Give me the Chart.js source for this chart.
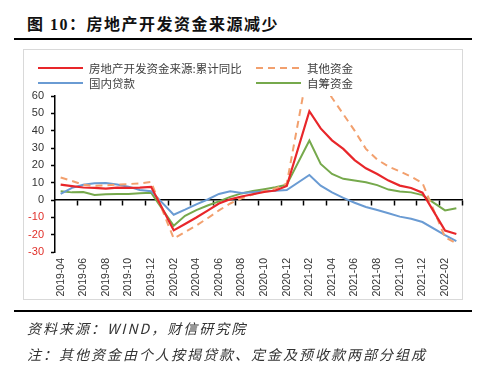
<!DOCTYPE html>
<html>
<head>
<meta charset="utf-8">
<script src="https://cdn.jsdelivr.net/npm/chart.js@4"></script>
<style>
  body { margin: 0; background: #fff; }
  #page { position: relative; width: 500px; height: 372px; overflow: hidden; font-family: "Noto Sans CJK SC", sans-serif; }
  #title { position: absolute; left: 27px; top: 14px; font-size: 16px; font-weight: bold; line-height: 22px; letter-spacing: 1.5px; color: #111; font-family: "Liberation Serif", "Noto Sans CJK SC", serif; }
  .rule { position: absolute; left: 14px; width: 458px; height: 2px; background: #000; }
  #box { position: absolute; left: 23px; top: 49px; width: 440px; height: 251px; border: 1px solid #d9d9d9; box-sizing: border-box; }
  #chart { position: absolute; left: 0; top: 0; }
  .leg { position: absolute; font-size: 11.5px; color: #404040; line-height: 16px; display: flex; align-items: center; white-space: nowrap; }
  .leg svg { margin-right: 6px; }
  .foot { position: absolute; left: 27px; font-size: 14px; font-style: italic; color: #333; letter-spacing: 2px; line-height: 18px; }
</style>
</head>
<body>
<div id="page">
  <div id="title">图 10：房地产开发资金来源减少</div>
  <div class="rule" style="top:38px"></div>
  <div id="box"></div>
  <canvas id="chart" width="500" height="372"></canvas>
  <div id="legend"></div>
  <div class="rule" style="top:310px"></div>
  <div class="foot" style="top:319px">资料来源：WIND，财信研究院</div>
  <div class="foot" style="top:345px">注：其他资金由个人按揭贷款、定金及预收款两部分组成</div>
</div>
<script>
// 月份（2019-04 ～ 2022-03）
const months = [
  "2019-04","2019-05","2019-06","2019-07","2019-08","2019-09","2019-10","2019-11","2019-12",
  "2020-01","2020-02","2020-03","2020-04","2020-05","2020-06","2020-07","2020-08","2020-09","2020-10","2020-11","2020-12",
  "2021-01","2021-02","2021-03","2021-04","2021-05","2021-06","2021-07","2021-08","2021-09","2021-10","2021-11","2021-12",
  "2022-01","2022-02","2022-03"
];

// 累计同比（%），1月无单独数据
const totalFunds = [8.9, 8.0, 7.2, 7.0, 6.6, 7.1, 7.0, 7.1, 7.6,
  null, -17.5, -13.8, -10.1, -6.1, -2.0, 0.4, 2.0, 3.3, 4.6, 5.5, 8.1,
  null, 51.2, 41.3, 34.4, 29.5, 23.0, 18.3, 15.0, 11.2, 8.3, 6.9, 4.2,
  null, -17.7, -19.6];
const otherFunds = [13.0, 11.0, 8.8, 8.2, 8.4, 8.9, 9.2, 9.6, 10.4,
  null, -22.2, -18.5, -14.7, -10.5, -6.0, -2.0, 1.0, 3.2, 5.0, 6.6, 9.5,
  null, 80.0, 70.0, 59.0, 49.5, 40.0, 29.5, 23.3, 19.3, 16.5, 13.5, 9.8,
  null, -21.5, -25.0];
const domesticLoans = [3.5, 7.0, 8.8, 9.6, 9.8, 9.0, 7.7, 5.8, 5.1,
  null, -8.5, -5.6, -2.5, 0.3, 3.5, 5.0, 4.0, 4.5, 5.0, 5.3, 5.7,
  null, 14.4, 8.3, 4.4, 1.2, -1.6, -4.0, -5.8, -7.6, -9.6, -10.8, -12.7,
  null, -20.3, -23.7];
const selfRaised = [5.0, 4.4, 4.6, 2.9, 3.3, 3.5, 3.5, 3.9, 4.2,
  null, -14.9, -9.1, -5.8, -3.2, -0.8, 1.8, 3.8, 5.2, 6.2, 7.3, 8.8,
  null, 34.3, 20.8, 15.0, 12.2, 11.2, 10.2, 8.6, 6.0, 4.9, 4.4, 2.8,
  null, -6.0, -4.7];

const yMin = -30, yMax = 60, yStep = 10;

const datasets = [
  { label: "房地产开发资金来源:累计同比", data: totalFunds, borderColor: "#e8262a", borderWidth: 2.2 },
  { label: "其他资金", data: otherFunds, borderColor: "#f2a06e", borderWidth: 2, borderDash: [7, 5] },
  { label: "国内贷款", data: domesticLoans, borderColor: "#6a9bd3", borderWidth: 2 },
  { label: "自筹资金", data: selfRaised, borderColor: "#76a94c", borderWidth: 2 }
];

const chart = new Chart(document.getElementById("chart"), {
  type: "line",
  data: {
    labels: months,
    datasets: datasets.map(d => Object.assign({ pointRadius: 0, spanGaps: true, tension: 0, fill: false }, d))
  },
  options: {
    responsive: false,
    animation: false,
    layout: { padding: { left: 0, right: 38, top: 96, bottom: 0 } },
    plugins: { legend: { display: false }, tooltip: { enabled: false } },
    scales: {
      x: {
        type: "category",
        position: { y: 0 },
        offset: true,
        grid: {
          offset: true,
          drawOnChartArea: false,
          drawTicks: true,
          tickLength: 5,
          tickWidth: 1.5,
          tickColor: ctx => (ctx.index === undefined || (ctx.index > 0 && ctx.index % 2 === 0)) ? "#000" : "rgba(0,0,0,0)"
        },
        border: { color: "#000", width: 1.5 },
        ticks: { display: false },
        afterFit: s => { s.height = 0; }
      },
      x2: {
        type: "category",
        labels: months,
        position: "bottom",
        offset: true,
        grid: { display: false, drawTicks: false },
        border: { display: false },
        ticks: {
          autoSkip: false,
          minRotation: 90,
          maxRotation: 90,
          padding: 6,
          color: "#333",
          font: { family: "Liberation Sans", size: 10.5 },
          callback: (v, i) => i % 2 === 0 ? months[i] : ""
        },
        afterFit: s => { s.height = 120; }
      },
      y: {
        min: yMin,
        max: yMax,
        ticks: {
          stepSize: yStep,
          padding: 7,
          color: ctx => ctx.tick.value < 0 ? "#e0302a" : "#333",
          font: { family: "Liberation Sans", size: 11 }
        },
        grid: { drawOnChartArea: false, drawTicks: true, tickLength: 4, tickColor: "#000", tickWidth: 1.5 },
        border: { color: "#000", width: 1.5 },
        afterFit: s => { s.width = 55; }
      }
    }
  }
});

// 图例（两列）
const legendPos = [[38, 68], [256, 68], [38, 82.5], [256, 82.5]];
const legendOrder = [0, 1, 2, 3];
const legendEl = document.getElementById("legend");
legendOrder.forEach((di, k) => {
  const d = datasets[di];
  const item = document.createElement("div");
  item.className = "leg";
  item.style.left = legendPos[k][0] + "px";
  item.style.top = (legendPos[k][1] - 8) + "px";
  const dash = d.borderDash ? `stroke-dasharray="${d.borderDash.join(" ")}"` : "";
  item.innerHTML = `<svg width="45" height="4"><line x1="0" y1="2" x2="45" y2="2" stroke="${d.borderColor}" stroke-width="2" ${dash}/></svg><span>${d.label}</span>`;
  legendEl.appendChild(item);
});
</script>
</body>
</html>
